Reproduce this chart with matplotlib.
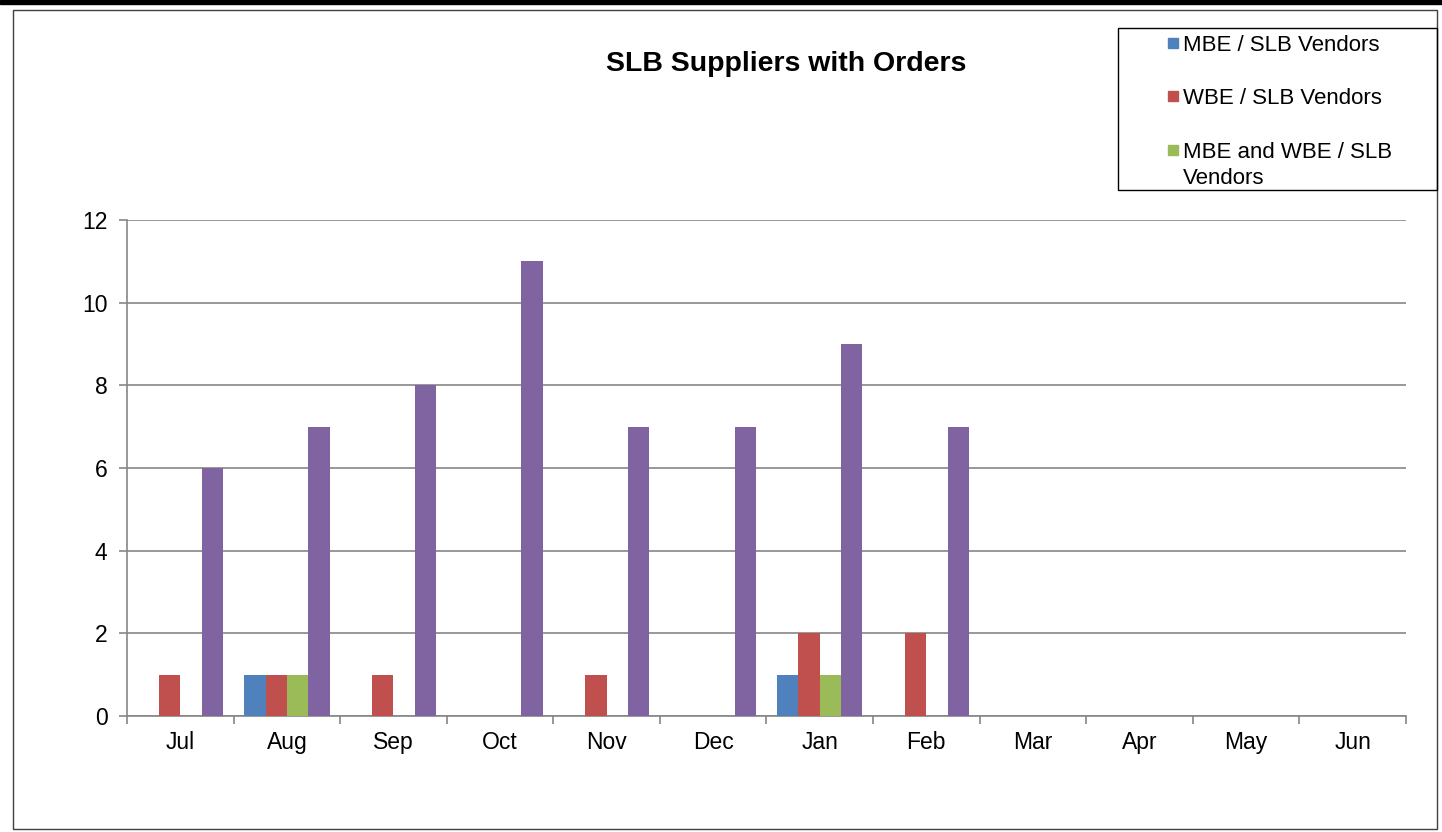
import numpy as np
import matplotlib.pyplot as plt
from matplotlib.patches import Rectangle

plt.rcParams['font.family'] = ['Liberation Sans', 'DejaVu Sans']

months = ['Jul', 'Aug', 'Sep', 'Oct', 'Nov', 'Dec', 'Jan', 'Feb', 'Mar', 'Apr', 'May', 'Jun']
mbe = [0, 1, 0, 0, 0, 0, 1, 0, 0, 0, 0, 0]
wbe = [1, 1, 1, 0, 1, 0, 2, 2, 0, 0, 0, 0]
mbe_wbe = [0, 1, 0, 0, 0, 0, 1, 0, 0, 0, 0, 0]
total = [6, 7, 8, 11, 7, 7, 9, 7, 0, 0, 0, 0]

series = [mbe, wbe, mbe_wbe, total]
names = ['MBE / SLB Vendors', 'WBE / SLB Vendors', 'MBE and WBE / SLB\nVendors', 'Total SLB Vendors']
colors = ['#4f81bd', '#c0504d', '#9bbb59', '#8064a2']

W, H = 1442, 832
fig = plt.figure(figsize=(W / 100, H / 100), dpi=100)

# page decoration: black bar on top and the chart frame
fig.patches.append(Rectangle((0, 1 - 4 / H), 1, 4 / H, transform=fig.transFigure,
                             color='black', zorder=0))
fig.patches.append(Rectangle((13 / W, 3 / H), 1424 / W, 819 / H, transform=fig.transFigure,
                             fill=False, edgecolor='#404040', lw=1, zorder=0))

ax = fig.add_axes([127 / W, 1 - 716 / H, (1406 - 127) / W, (716 - 220) / H])

x = np.arange(len(months))
bw = 0.2
for i, (vals, c) in enumerate(zip(series, colors)):
    ax.bar(x - 0.3 + i * bw, vals, width=bw, color=c, zorder=3)

ax.set_xlim(-0.5, len(months) - 0.5)
ax.set_ylim(0, 12)
ax.set_yticks(range(0, 13, 2))
ax.yaxis.grid(True, color='#868686', lw=1.2, zorder=0)
ax.set_xticks(x)
ax.set_xticklabels(months, fontsize=16.5)
ax.tick_params(axis='x', length=0, pad=11)
ax.set_xticks(np.arange(-0.5, len(months), 1), minor=True)
ax.tick_params(axis='x', which='minor', length=6, width=1.2, color='#868686', direction='out')
ax.tick_params(axis='y', labelsize=16.5, length=6, width=1.2, color='#868686', pad=8)
for s in ['top', 'right']:
    ax.spines[s].set_visible(False)
for s in ['left', 'bottom']:
    ax.spines[s].set_color('#868686')
    ax.spines[s].set_linewidth(1.2)

fig.text(786 / W, 1 - 64 / H, 'SLB Suppliers with Orders', fontsize=20.5, fontweight='bold',
         ha='center', va='center')

# legend box (cut off like the original)
fig.patches.append(Rectangle((1118 / W, 1 - 190 / H), (1437 - 1118) / W, (190 - 28) / H,
                             transform=fig.transFigure, fill=False, edgecolor='black', lw=1, zorder=5))
for i, yy in enumerate([43, 96, 150]):
    fig.patches.append(Rectangle((1168 / W, 1 - (yy + 5) / H), 10 / W, 10 / H,
                                 transform=fig.transFigure, color=colors[i], zorder=6))
    fig.text(1183 / W, 1 - (yy - 8) / H, names[i], fontsize=16, ha='left', va='top',
             linespacing=1.3)

fig.savefig('out.png', dpi=100)
